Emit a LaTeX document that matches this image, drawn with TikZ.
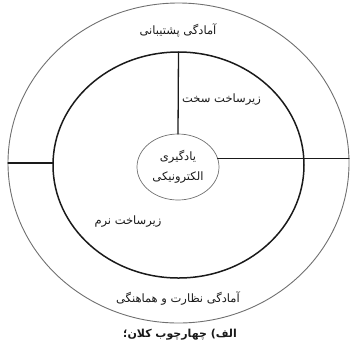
\documentclass[tikz,border=0pt]{standalone}
\usepackage{fontspec}
\usepackage{xcolor}
\usepackage{tikz}
\usetikzlibrary{shapes.geometric}
\newfontfamily\arabicfont[Script=Arabic]{DejaVu Sans}
\TeXXeTstate=1
\definecolor{ink}{HTML}{1A1A1A}
\definecolor{rim}{HTML}{707070}
\tikzset{
    every picture/.style={line cap=round,line join=round},
    outerring/.style={draw=rim,ellipse,line width=0.9pt,inner sep=0pt,outer sep=0pt,
      minimum width=341pt,minimum height=320pt},
    innerring/.style={draw=ink,ellipse,line width=1.5pt,inner sep=0pt,outer sep=0pt,
      minimum width=251pt,minimum height=226pt},
    corenode/.style={draw=rim,ellipse,line width=0.7pt,inner sep=0pt,outer sep=0pt,
      minimum width=82pt,minimum height=66pt,align=center,text=ink,
      font=\arabicfont\fontsize{11.5}{20}\selectfont},
    divider/.style={draw=ink,line width=1.3pt},
    ringlabel/.style={text=ink,inner sep=1pt,font=\arabicfont\fontsize{11.5}{13}\selectfont},
    captionlabel/.style={text=ink,inner sep=1pt,font=\arabicfont\bfseries\fontsize{11}{13}\selectfont}
}
\begin{document}
\begin{tikzpicture}[x=1pt,y=-1pt]
  \useasboundingbox (0,0) rectangle (350,349);
  \node[outerring] (outer) at (178.5,163) {};
  \node[innerring] (inner) at (178.5,165) {};
  \node[corenode] (elearn) at (178,167) {\beginR یادگیری\endR\\\beginR الکترونیکی\endR};
  \draw[divider] (inner.north) -- (elearn.north);
  \draw[divider] (elearn.12) -- (elearn.12 -| outer.east);
  \draw[divider] (outer.west) -- (outer.west -| inner.west);
  \node[ringlabel] (support) at (178,30) {\beginR آمادگی پشتیبانی\endR};
  \node[ringlabel,anchor=west] (hard) at (181,100) {\beginR زیرساخت سخت\endR};
  \node[ringlabel] (soft) at (128,222) {\beginR زیرساخت نرم\endR};
  \node[ringlabel] (monitor) at (178,298) {\beginR آمادگی نظارت و هماهنگی\endR};
  \node[captionlabel] (caption) at (180,335) {\beginR الف) چهارچوب کلان؛\endR};
\end{tikzpicture}
\end{document}
